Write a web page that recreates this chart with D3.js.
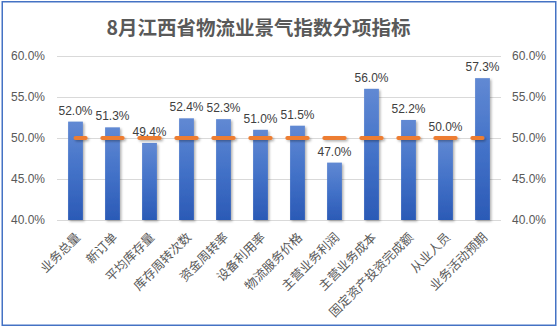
<!DOCTYPE html>
<html><head><meta charset="utf-8">
<script src="https://cdn.jsdelivr.net/npm/d3@7"></script>
<style>
html,body{margin:0;padding:0;background:#fff;}
svg{display:block;}
</style></head>
<body>
<svg id="chart" width="559" height="328"></svg>
<script>
const title = "8月江西省物流业景气指数分项指标";
const categories = ["业务总量","新订单","平均库存量","库存周转次数","资金周转率","设备利用率","物流服务价格","主营业务利润","主营业务成本","固定资产投资完成额","从业人员","业务活动预期"];
const values = [52.0, 51.3, 49.4, 52.4, 52.3, 51.0, 51.5, 47.0, 56.0, 52.2, 50.0, 57.3];
const threshold = [50, 50, 50, 50, 50, 50, 50, 50, 50, 50, 50, 50];
const yTicks = [40, 45, 50, 55, 60];

const svg = d3.select("#chart");
const cjk = "'Noto Sans CJK SC','Microsoft YaHei',sans-serif";
const num = "'Liberation Sans',Arial,sans-serif";

const defs = svg.append("defs");
const grad = defs.append("linearGradient").attr("id","barGrad").attr("x1",0).attr("y1",0).attr("x2",0).attr("y2",1);
grad.append("stop").attr("offset","0%").attr("stop-color","#6189d3");
grad.append("stop").attr("offset","50%").attr("stop-color","#4372c8");
grad.append("stop").attr("offset","100%").attr("stop-color","#2b5ab6");
const sh = defs.append("filter").attr("id","shadow").attr("filterUnits","userSpaceOnUse")
  .attr("x",0).attr("y",0).attr("width",559).attr("height",328);
sh.append("feDropShadow").attr("dx",1.5).attr("dy",1.5).attr("stdDeviation",1.2).attr("flood-color","#000").attr("flood-opacity",0.3);

// border
svg.append("rect").attr("x",2.25).attr("y",1.75).attr("width",553.5).attr("height",323.5)
  .attr("fill","#fff").attr("stroke","#4472c4").attr("stroke-width",1.5);

const x = d3.scaleBand().domain(categories).range([57, 501]).paddingInner(0.6).paddingOuter(0.3);
const y = d3.scaleLinear().domain([40, 60]).range([220, 56]);

// title
svg.append("text").attr("x",258.5).attr("y",35).attr("text-anchor","middle")
  .attr("font-family",cjk).attr("font-weight","bold").attr("font-size",19.5)
  .attr("fill","#595959").text(title);

// gridlines
svg.append("g").selectAll("line").data(yTicks).join("line")
  .attr("x1",57).attr("x2",501).attr("y1",d=>Math.round(y(d))+0.5).attr("y2",d=>Math.round(y(d))+0.5)
  .attr("stroke","#d9d9d9").attr("stroke-width",1);

const fmt = d => d.toFixed(1) + "%";
// left axis
const yl = svg.append("g").attr("transform","translate(45,0)")
  .call(d3.axisLeft(y).tickValues(yTicks).tickFormat(fmt).tickSize(0).tickPadding(0));
yl.select(".domain").remove();
yl.selectAll("text").attr("font-family",num).attr("font-size",12).attr("fill","#595959");
// right axis
const yr = svg.append("g").attr("transform","translate(512,0)")
  .call(d3.axisRight(y).tickValues(yTicks).tickFormat(fmt).tickSize(0).tickPadding(0));
yr.select(".domain").remove();
yr.selectAll("text").attr("font-family",num).attr("font-size",12).attr("fill","#595959");

// bars
svg.append("g").attr("filter","url(#shadow)").selectAll("rect").data(values).join("rect")
  .attr("x",(d,i)=>x(categories[i])).attr("width",x.bandwidth())
  .attr("y",d=>y(d)).attr("height",d=>y(40)-y(d))
  .attr("fill","url(#barGrad)");

// threshold line (dashed, one dash per category)
const cx = (c) => x(c) + x.bandwidth()/2;
const line = d3.line().x((d,i)=>cx(categories[i])).y(d=>y(d));
const step = x.step();
svg.append("path").datum(threshold).attr("d",line)
  .attr("fill","none").attr("stroke","#ed7d31").attr("stroke-width",4)
  .attr("stroke-linecap","round")
  .attr("stroke-dasharray", `${step*0.55} ${step*0.45}`)
  .attr("stroke-dashoffset", step*0.275)
  .attr("filter","url(#shadow)");

// data labels
svg.append("g").selectAll("text").data(values).join("text")
  .attr("x",(d,i)=>cx(categories[i])).attr("y",d=>y(d)-7)
  .attr("text-anchor","middle").attr("font-family",num).attr("font-size",12)
  .attr("fill","#404040").text(d=>fmt(d));

// category labels
svg.append("g").selectAll("text").data(categories).join("text")
  .attr("transform",c=>`translate(${cx(c)+2.5},${235}) rotate(-45)`)
  .attr("text-anchor","end").attr("dy","0.35em")
  .attr("font-family",cjk).attr("font-size",12.5).attr("fill","#595959").text(c=>c);
</script>
</body></html>
